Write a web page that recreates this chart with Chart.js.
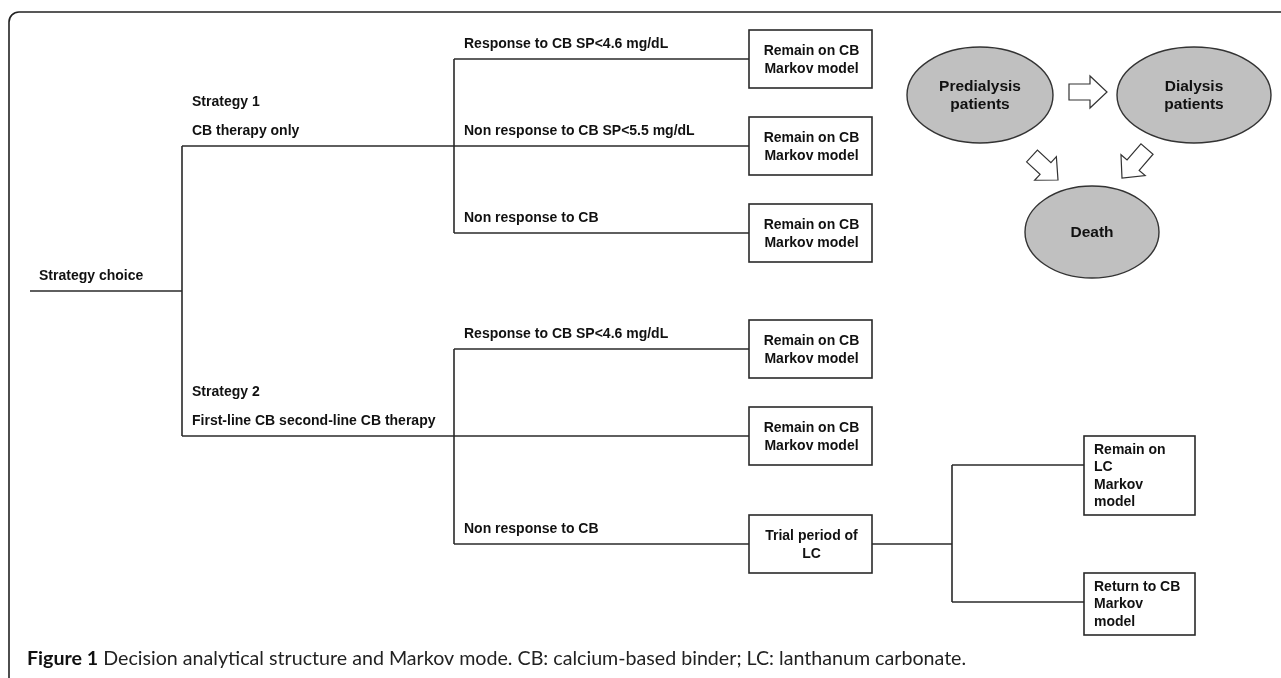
<!DOCTYPE html>
<html>
<head>
<meta charset="utf-8">
<script src="https://cdn.jsdelivr.net/npm/chart.js@4"></script>
<style>
  html, body { margin: 0; padding: 0; background: #fff; }
  #wrap { width: 1281px; height: 678px; position: relative; }
</style>
</head>
<body>
<div id="wrap"><canvas id="chart"></canvas></div>
<script>
// Dane drzewa decyzyjnego
const rootLabel = "Strategy choice";
const strategyTitles = ["Strategy 1", "Strategy 2"];
const strategyNames = ["CB therapy only", "First-line CB second-line CB therapy"];
const branchLabels = [
  ["Response to CB SP<4.6 mg/dL", "Non response to CB SP<5.5 mg/dL", "Non response to CB"],
  ["Response to CB SP<4.6 mg/dL", "", "Non response to CB"]
];
const outcomes = [
  [["Remain on CB", "Markov model"], ["Remain on CB", "Markov model"], ["Remain on CB", "Markov model"]],
  [["Remain on CB", "Markov model"], ["Remain on CB", "Markov model"], ["Trial period of", "LC"]]
];
const trialOutcomes = [["Remain on", "LC", "Markov", "model"], ["Return to CB", "Markov", "model"]];
const markovStates = [["Predialysis", "patients"], ["Dialysis", "patients"], ["Death"]];
const transitions = [[0, 1], [0, 2], [1, 2]];
const captionBold = "Figure 1";
const captionText = " Decision analytical structure and Markov mode. CB: calcium-based binder; LC: lanthanum carbonate.";

// Układ (jednostki osi = piksele obrazu)
const W = 1281, H = 678;
const rootX = 30, splitX = 182, chanceX = 454, boxX = 749, boxW = 123, boxH = 58;
const strategyY = [146, 436];
const branchY = [[59, 146, 233], [349, 436, 544]];
const trialX = 952, trialBoxX = 1084, trialBoxW = 111;
const trialY = [465, 602];
const trialBoxSpan = [[436, 515], [573, 635]];
const stateCenters = [[980, 95], [1194, 95], [1092, 232]];
const stateRadii = [[73, 48], [77, 48], [67, 46]];
const arrowEnds = [[[1069, 92], [1107, 92]], [[1032, 156], [1058, 180]], [[1147, 149], [1122, 178]]];

const lineColor = "#2a2a2a";
const textColor = "#111";
const boldFont = "bold 14px 'Liberation Sans', Arial, sans-serif";

// Odcinki drzewa
const segs = [];
const midY = (strategyY[0] + strategyY[1]) / 2;
segs.push([[rootX, midY], [splitX, midY]]);
segs.push([[splitX, strategyY[0]], [splitX, strategyY[1]]]);
strategyY.forEach((y, i) => {
  segs.push([[splitX, y], [chanceX, y]]);
  const ys = branchY[i];
  segs.push([[chanceX, ys[0]], [chanceX, ys[ys.length - 1]]]);
  ys.forEach(by => segs.push([[chanceX, by], [boxX, by]]));
});
const trialFromY = branchY[1][2];
segs.push([[boxX + boxW, trialFromY], [trialX, trialFromY]]);
segs.push([[trialX, trialY[0]], [trialX, trialY[1]]]);
trialY.forEach(y => segs.push([[trialX, y], [trialBoxX, y]]));

const datasets = segs.map(s => ({
  data: s.map(p => ({ x: p[0], y: p[1] })),
  showLine: true,
  borderColor: lineColor,
  borderWidth: 1.6,
  pointRadius: 0,
  fill: false
}));

function blockArrow(ctx, tail, tip) {
  const dx = tip[0] - tail[0], dy = tip[1] - tail[1];
  const len = Math.hypot(dx, dy);
  const ux = dx / len, uy = dy / len, nx = -uy, ny = ux;
  const sw = 8, hw = 16, hl = 17;
  const bx = tip[0] - ux * hl, by = tip[1] - uy * hl;
  const pts = [
    [tail[0] + nx * sw, tail[1] + ny * sw],
    [bx + nx * sw, by + ny * sw],
    [bx + nx * hw, by + ny * hw],
    tip,
    [bx - nx * hw, by - ny * hw],
    [bx - nx * sw, by - ny * sw],
    [tail[0] - nx * sw, tail[1] - ny * sw]
  ];
  ctx.beginPath();
  pts.forEach((p, i) => i ? ctx.lineTo(p[0], p[1]) : ctx.moveTo(p[0], p[1]));
  ctx.closePath();
  ctx.fillStyle = "#fff";
  ctx.fill();
  ctx.strokeStyle = "#333";
  ctx.lineWidth = 1.2;
  ctx.stroke();
}

const diagramPlugin = {
  id: "diagram",
  afterDatasetsDraw(chart) {
    const ctx = chart.ctx;
    const sx = v => chart.scales.x.getPixelForValue(v);
    const sy = v => chart.scales.y.getPixelForValue(v);
    ctx.save();

    // ramka
    ctx.beginPath();
    ctx.roundRect(sx(9), sy(12), 1320, 700, 10);
    ctx.strokeStyle = "#222";
    ctx.lineWidth = 1.6;
    ctx.stroke();

    // stany Markova
    markovStates.forEach((lines, i) => {
      const c = stateCenters[i], r = stateRadii[i];
      ctx.beginPath();
      ctx.ellipse(sx(c[0]), sy(c[1]), r[0], r[1], 0, 0, Math.PI * 2);
      ctx.fillStyle = "#c0c0c0";
      ctx.fill();
      ctx.strokeStyle = "#333";
      ctx.lineWidth = 1.4;
      ctx.stroke();
      ctx.fillStyle = textColor;
      ctx.font = "bold 15.5px 'Liberation Sans', Arial, sans-serif";
      ctx.textAlign = "center";
      ctx.textBaseline = "middle";
      const y0 = c[1] + 1 - (lines.length - 1) * 9;
      lines.forEach((t, k) => ctx.fillText(t, sx(c[0]), sy(y0 + k * 18)));
    });
    transitions.forEach((t, i) => blockArrow(ctx, arrowEnds[i][0].map((v, k) => k ? sy(v) : sx(v)), arrowEnds[i][1].map((v, k) => k ? sy(v) : sx(v))));

    // prostokąty wyników
    function box(x, y, w, h) {
      ctx.fillStyle = "#fff";
      ctx.fillRect(sx(x), sy(y), w, h);
      ctx.strokeStyle = lineColor;
      ctx.lineWidth = 1.6;
      ctx.strokeRect(sx(x), sy(y), w, h);
    }
    ctx.font = boldFont;
    ctx.textBaseline = "middle";
    outcomes.forEach((group, i) => {
      group.forEach((lines, j) => {
        const cy = branchY[i][j];
        box(boxX, cy - boxH / 2, boxW, boxH);
        ctx.fillStyle = textColor;
        ctx.textAlign = "center";
        lines.forEach((t, k) => ctx.fillText(t, sx(boxX + boxW / 2 + 1), sy(cy + 1 - 9 + k * 18)));
      });
    });
    trialOutcomes.forEach((lines, i) => {
      const [top, bot] = trialBoxSpan[i];
      box(trialBoxX, top, trialBoxW, bot - top);
      ctx.fillStyle = textColor;
      ctx.textAlign = "left";
      lines.forEach((t, k) => ctx.fillText(t, sx(trialBoxX + 10), sy(top + 14 + k * 17.5)));
    });

    // etykiety gałęzi
    ctx.fillStyle = textColor;
    ctx.textAlign = "left";
    ctx.fillText(rootLabel, sx(39), sy(midY - 15));
    strategyY.forEach((y, i) => {
      ctx.fillText(strategyTitles[i], sx(splitX + 10), sy(y - 44));
      ctx.fillText(strategyNames[i], sx(splitX + 10), sy(y - 15));
      branchLabels[i].forEach((t, j) => {
        if (t) ctx.fillText(t, sx(chanceX + 10), sy(branchY[i][j] - 15));
      });
    });

    // podpis
    const capX = sx(27), capY = sy(659);
    let size = 16;
    ctx.font = "bold " + size + "px Lato, sans-serif";
    let wb = ctx.measureText(captionBold).width;
    ctx.font = size + "px Lato, sans-serif";
    let wt = ctx.measureText(captionText).width;
    size = size * 940 / (wb + wt);
    ctx.font = "bold " + size + "px Lato, sans-serif";
    wb = ctx.measureText(captionBold).width;
    ctx.fillStyle = "#111";
    ctx.fillText(captionBold, capX, capY);
    ctx.font = size + "px Lato, sans-serif";
    ctx.fillStyle = "#222";
    ctx.fillText(captionText, capX + wb, capY);

    ctx.restore();
  }
};

new Chart(document.getElementById("chart"), {
  type: "scatter",
  data: { datasets },
  options: {
    responsive: true,
    maintainAspectRatio: false,
    animation: false,
    layout: { padding: 0 },
    plugins: { legend: { display: false }, tooltip: { enabled: false } },
    scales: {
      x: { type: "linear", min: 0, max: W, display: false },
      y: { type: "linear", min: 0, max: H, reverse: true, display: false }
    }
  },
  plugins: [diagramPlugin]
});
</script>
</body>
</html>
